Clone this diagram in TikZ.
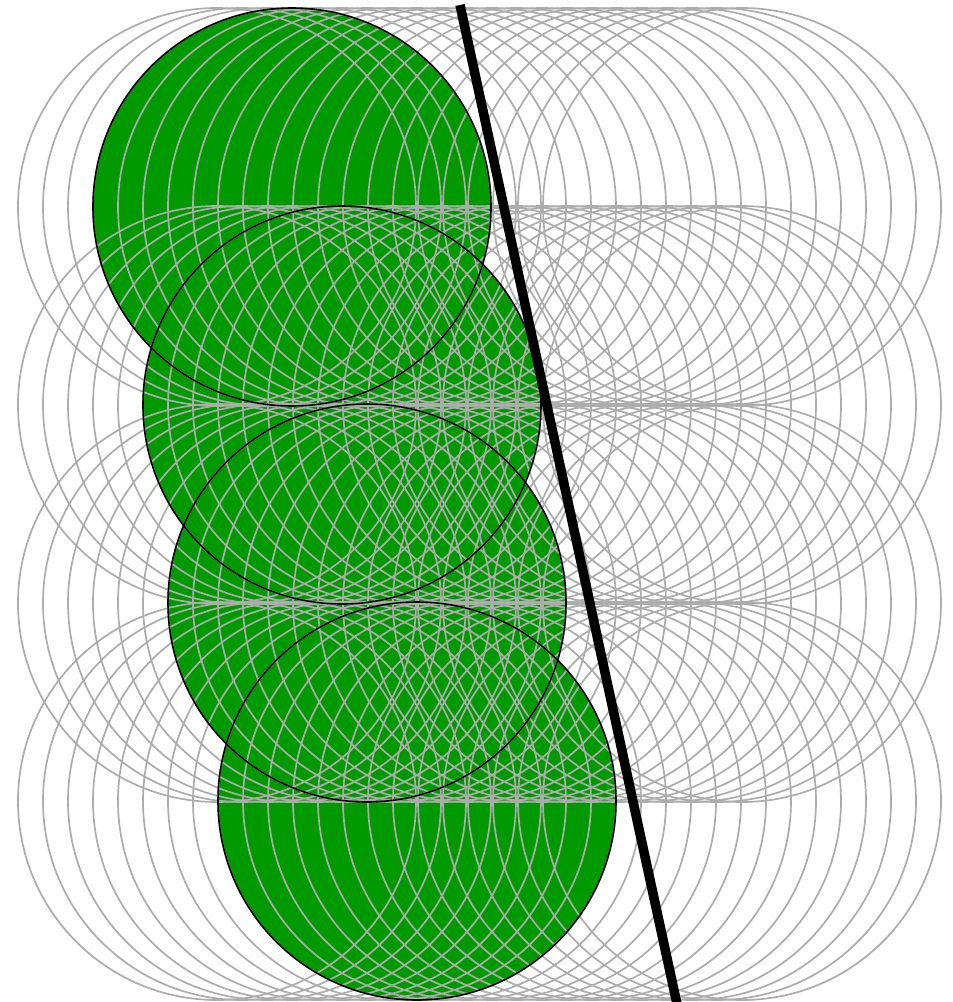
\documentclass[tikz,border=0pt]{standalone}
\definecolor{fillgreen}{RGB}{0,153,0}
\definecolor{ringgray}{RGB}{172,172,172}
\tikzset{
  greenfill/.style={fill=fillgreen},
  greenrim/.style={draw=black,line width=1.6pt},
  ring/.style={draw=ringgray,line width=1.7pt},
  heavyline/.style={draw=black,line width=9.5pt}
}
\begin{document}
\begin{tikzpicture}[x=1pt,y=-1pt]
\useasboundingbox (0,0) rectangle (953,1002);
% green discs (fill)
\foreach \cx/\cy in {292/207,342/405,367/603,417/801}{
  \fill[greenfill] (\cx,\cy) circle[radius=199];
}
% gray rings, four rows of 22
\foreach \cy in {207,405,603,801}{
  \foreach \i in {0,...,21}{
    \draw[ring] ({217+25*\i},\cy) circle[radius=199];
  }
}
% black rims of the green discs
\foreach \cx/\cy in {292/207,342/405,367/603,417/801}{
  \draw[greenrim] (\cx,\cy) circle[radius=199];
}
% thick line
\coordinate (ltop) at (460,5);
\coordinate (lbot) at (677,1004);
\draw[heavyline] (ltop) -- (lbot);
\end{tikzpicture}
\end{document}
